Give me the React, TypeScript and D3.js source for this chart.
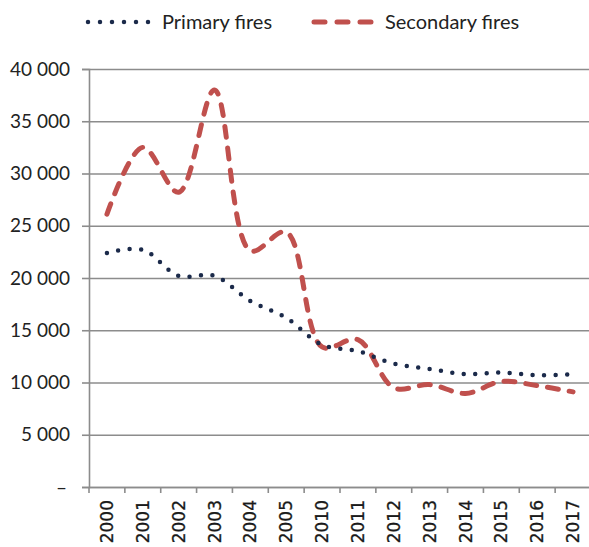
import React, { useEffect, useRef } from 'react';
import * as d3 from 'd3';

const years = ['2000', '2001', '2002', '2003', '2004', '2005', '2010', '2011', '2012', '2013', '2014', '2015', '2016', '2017'];
const primaryFires = [22400, 22700, 20200, 20200, 17800, 16200, 13600, 13000, 11800, 11300, 10800, 10950, 10700, 10800];
const secondaryFires = [26100, 32500, 28200, 38000, 22600, 24400, 13400, 14100, 9500, 9800, 8950, 10100, 9700, 9100];
const yTicks = [0, 5000, 10000, 15000, 20000, 25000, 30000, 35000, 40000];
const yTickLabels = ['–', '5 000', '10 000', '15 000', '20 000', '25 000', '30 000', '35 000', '40 000'];

const App = () => {
  const svgRef = useRef<SVGSVGElement>(null);

  useEffect(() => {
    const svg = d3.select(svgRef.current);
    svg.selectAll('*').remove();

    const width = 589;
    const height = 547;
    const margin = { top: 69, right: -2, bottom: 60, left: 89 };
    const gray = '#8c8c8c';
    const navy = '#1b2a4a';
    const red = '#c0504d';

    const x = d3.scaleBand()
      .domain(years)
      .range([margin.left, width - margin.right]);

    const y = d3.scaleLinear()
      .domain([0, 40000])
      .range([height - margin.bottom, margin.top]);

    svg.append('rect')
      .attr('width', width)
      .attr('height', height)
      .attr('fill', 'white');

    // 网格线 + y 轴
    const yAxis = svg.append('g')
      .attr('transform', `translate(${margin.left},0)`)
      .call(d3.axisLeft(y)
        .tickValues(yTicks)
        .tickSize(7)
        .tickFormat((d, i) => yTickLabels[i]));
    yAxis.select('.domain').attr('stroke', gray).attr('stroke-width', 1.6);
    yAxis.selectAll('.tick line').attr('stroke', gray).attr('stroke-width', 1.6);
    yAxis.selectAll('.tick')
      .append('line')
      .attr('x1', 0)
      .attr('x2', width - margin.left)
      .attr('stroke', gray)
      .attr('stroke-width', 1.6);
    yAxis.selectAll('.tick text')
      .attr('x', (d, i) => (i === 0 ? -22 : -19))
      .attr('fill', '#222')
      .style('font-family', 'Lato')
      .style('font-size', '19px');

    // x 轴
    const xAxis = svg.append('g')
      .attr('transform', `translate(0,${height - margin.bottom})`)
      .call(d3.axisBottom(x).tickSizeInner(0).tickSizeOuter(0));
    xAxis.select('.domain').attr('stroke', gray).attr('stroke-width', 1.6);
    xAxis.selectAll('.tick line').remove();
    svg.append('g')
      .selectAll('line')
      .data(years)
      .enter()
      .append('line')
      .attr('x1', d => x(d)!)
      .attr('x2', d => x(d)!)
      .attr('y1', height - margin.bottom)
      .attr('y2', height - margin.bottom + 6)
      .attr('stroke', gray)
      .attr('stroke-width', 1.6);
    xAxis.selectAll('.tick text')
      .attr('transform', 'rotate(-90)')
      .attr('x', -13)
      .attr('y', 0)
      .attr('dy', '0.36em')
      .style('text-anchor', 'end')
      .attr('fill', '#1a1a1a')
      .attr('stroke', '#1a1a1a')
      .attr('stroke-width', 0.3)
      .style('font-family', 'DejaVu Sans')
      .style('font-size', '17px');

    const cx = (d: string) => x(d)! + x.bandwidth() / 2;
    const line = d3.line<number>()
      .x((_, i) => cx(years[i]))
      .y(d => y(d))
      .curve(d3.curveCatmullRom.alpha(0.5));

    svg.append('path')
      .datum(secondaryFires)
      .attr('d', line)
      .attr('fill', 'none')
      .attr('stroke', red)
      .attr('stroke-width', 5)
      .attr('stroke-linecap', 'round')
      .attr('stroke-dasharray', '11 11');

    svg.append('path')
      .datum(primaryFires)
      .attr('d', line)
      .attr('fill', 'none')
      .attr('stroke', navy)
      .attr('stroke-width', 4.5)
      .attr('stroke-linecap', 'round')
      .attr('stroke-dasharray', '0 11.5');

    // 图例
    const legend = svg.append('g').style('font-family', 'Lato').style('font-size', '20px');
    legend.append('line')
      .attr('x1', 88).attr('x2', 149).attr('y1', 22).attr('y2', 22)
      .attr('stroke', navy).attr('stroke-width', 4.5)
      .attr('stroke-linecap', 'round').attr('stroke-dasharray', '0 12');
    legend.append('text')
      .attr('x', 162).attr('y', 29)
      .attr('fill', '#222')
      .text('Primary fires');
    legend.append('line')
      .attr('x1', 314).attr('x2', 372).attr('y1', 22).attr('y2', 22)
      .attr('stroke', red).attr('stroke-width', 5)
      .attr('stroke-linecap', 'round').attr('stroke-dasharray', '11 12');
    legend.append('text')
      .attr('x', 385).attr('y', 29)
      .attr('fill', '#222')
      .text('Secondary fires');
  }, []);

  return <svg ref={svgRef} width="589" height="547" style={{ position: 'absolute', left: 0, top: 0 }}></svg>;
};

export default App;
